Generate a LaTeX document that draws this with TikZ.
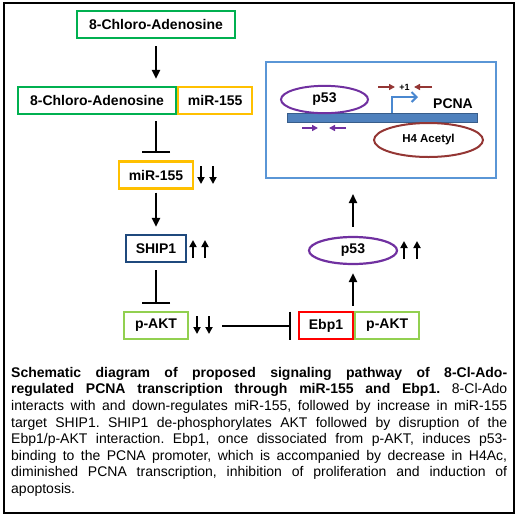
\documentclass[tikz,border=0pt]{standalone}
\usepackage{fontspec}
\setmainfont{Liberation Sans}
\usetikzlibrary{arrows.meta, positioning, shapes.geometric}
\definecolor{chlgreen}{HTML}{00B050}
\definecolor{miryellow}{HTML}{FFC000}
\definecolor{shipblue}{HTML}{1F497D}
\definecolor{aktgreen}{HTML}{92D050}
\definecolor{ebpred}{HTML}{FF0000}
\definecolor{pfsviolet}{HTML}{7030A0}
\definecolor{boxblue}{HTML}{5A96D6}
\definecolor{dnablue}{HTML}{4F81BD}
\definecolor{dnaborder}{HTML}{385D8A}
\definecolor{tssblue}{HTML}{4A88D0}
\definecolor{acred}{HTML}{943634}

\tikzset{
  gene/.style={draw, line width=2.2pt, minimum height=27pt, inner sep=2pt,
    font=\fontsize{14}{16}\selectfont\bfseries},
  act/.style={->, line width=2pt},
  inh/.style={-{Bar[width=28pt]}, line width=2pt},
  level/.style={-{Triangle[length=7pt, width=7pt]}, line width=2.2pt},
  primer/.style={-{Triangle[length=6pt, width=6pt]}, line width=1.7pt},
}

\begin{document}
\begin{tikzpicture}[x=1pt, y=-1pt, >={Triangle[length=9pt, width=8pt]}]
\useasboundingbox (0,0) rectangle (520,520);

% outer frame
\draw[line width=2.2pt] (4,3) rectangle (514,513);

% =====================================================
% left column: 8-Cl-Ado -> miR-155 -> SHIP1 -> p-AKT
% =====================================================
\node[gene, draw=chlgreen, minimum width=158pt] (chlado) at (156,24.5) {8-Chloro-Adenosine};
\node[gene, draw=chlgreen, minimum width=158pt] (chlpair) at (97,100.5) {8-Chloro-Adenosine};
\node[gene, draw=miryellow, minimum width=74pt, right=0pt of chlpair] (mirpair) {miR-155};
\node[gene, draw=miryellow, minimum width=74pt] (mir) at (156,175) {miR-155};
\node[gene, draw=shipblue, minimum width=60pt] (ship) at (156,248.5) {SHIP1};
\node[gene, draw=aktgreen, minimum width=64pt] (akt) at (156,325.5) {p-AKT};

% =====================================================
% right column: Ebp1/p-AKT -> p53 -> PCNA promoter
% =====================================================
\node[gene, draw=ebpred, minimum width=54pt] (ebp) at (326,325.5) {Ebp1};
\node[gene, draw=aktgreen, minimum width=64pt, right=0pt of ebp] (aktpair) {p-AKT};
\node[gene, ellipse, draw=pfsviolet, minimum width=88pt] (pfs) at (353,250.5) {p53};
\node[draw=boxblue, line width=2pt, minimum width=230pt, minimum height=116pt] (prom) at (381,120) {};

% connectors
\draw[act, shorten <=7pt, shorten >=7pt] (chlado) -- (chlado |- chlpair.north);
\draw[inh, shorten <=6pt, shorten >=7pt] (chlado |- chlpair.south) -- (mir);
\draw[act, shorten <=3pt, shorten >=7pt] (mir) -- (ship);
\draw[inh, shorten <=7pt, shorten >=7pt] (ship) -- (akt);
\draw[inh, shorten <=33pt, shorten >=7pt] (akt) -- (ebp);
\draw[act, shorten <=5pt, shorten >=8pt] (pfs.south |- ebp.north) -- (pfs.south);
\draw[act, shorten <=9pt, shorten >=15pt] (pfs.north) -- (pfs.north |- prom.south);

% up / down marks
\foreach \x in {201,213} \draw[level] (\x,166) -- (\x,184);
\foreach \x in {193,205} \draw[level] (\x,258) -- (\x,240);
\foreach \x in {197,209} \draw[level] (\x,316) -- (\x,334);
\foreach \x in {404,417} \draw[level] (\x,259) -- (\x,241);

% =====================================================
% PCNA promoter
% =====================================================
\draw[dnaborder, fill=dnablue, line width=0.8pt] (287,113) rectangle (477,122);
\node[ellipse, draw=pfsviolet, line width=2pt, minimum width=87pt, minimum height=27pt,
  font=\fontsize{14}{16}\selectfont\bfseries] (pfsbind) at (324.5,99.5) {p53};
\node[ellipse, draw=acred, line width=2pt, minimum width=109pt, minimum height=34pt,
  font=\fontsize{11.5}{13}\selectfont\bfseries] (acetyl) at (428.5,140) {H4 Acetyl};
\draw[tssblue, line width=2pt, -{Straight Barb[length=5pt, width=10pt]}] (392,113) -- (392,97) -- (418,97);
\node[font=\fontsize{9}{10}\selectfont\bfseries] (tss) at (404.5,87) {+1};
\draw[primer, acred] (378,87) -- (395,87);
\draw[primer, acred] (432,87) -- (414,87);
\draw[primer, pfsviolet] (302,128) -- (318,128);
\draw[primer, pfsviolet] (346,128) -- (329,128);
\node[font=\fontsize{14}{16}\selectfont\bfseries] (pcna) at (453,104) {PCNA};

% =====================================================
% caption
% =====================================================
\node[anchor=north west, inner sep=0pt, text width=496pt, align=justify,
  font=\fontsize{14}{16.6}\selectfont] (caption) at (11,367)
  {\frenchspacing\tolerance=10000 \hyphenpenalty=10000 \exhyphenpenalty=10000
  \textbf{Schematic diagram of proposed signaling pathway of 8-Cl-Ado-\linebreak
  regulated PCNA transcription through miR-155 and Ebp1.} 8-Cl-Ado\linebreak
  interacts with and down-regulates miR-155, followed by increase in miR-155\linebreak
  target SHIP1. SHIP1 de-phosphorylates AKT followed by disruption of the\linebreak
  Ebp1/p-AKT interaction. Ebp1, once dissociated from p-AKT, induces p53-\linebreak
  binding to the PCNA promoter, which is accompanied by decrease in H4Ac,\linebreak
  diminished PCNA transcription, inhibition of proliferation and induction of\linebreak
  apoptosis.};

\end{tikzpicture}
\end{document}
